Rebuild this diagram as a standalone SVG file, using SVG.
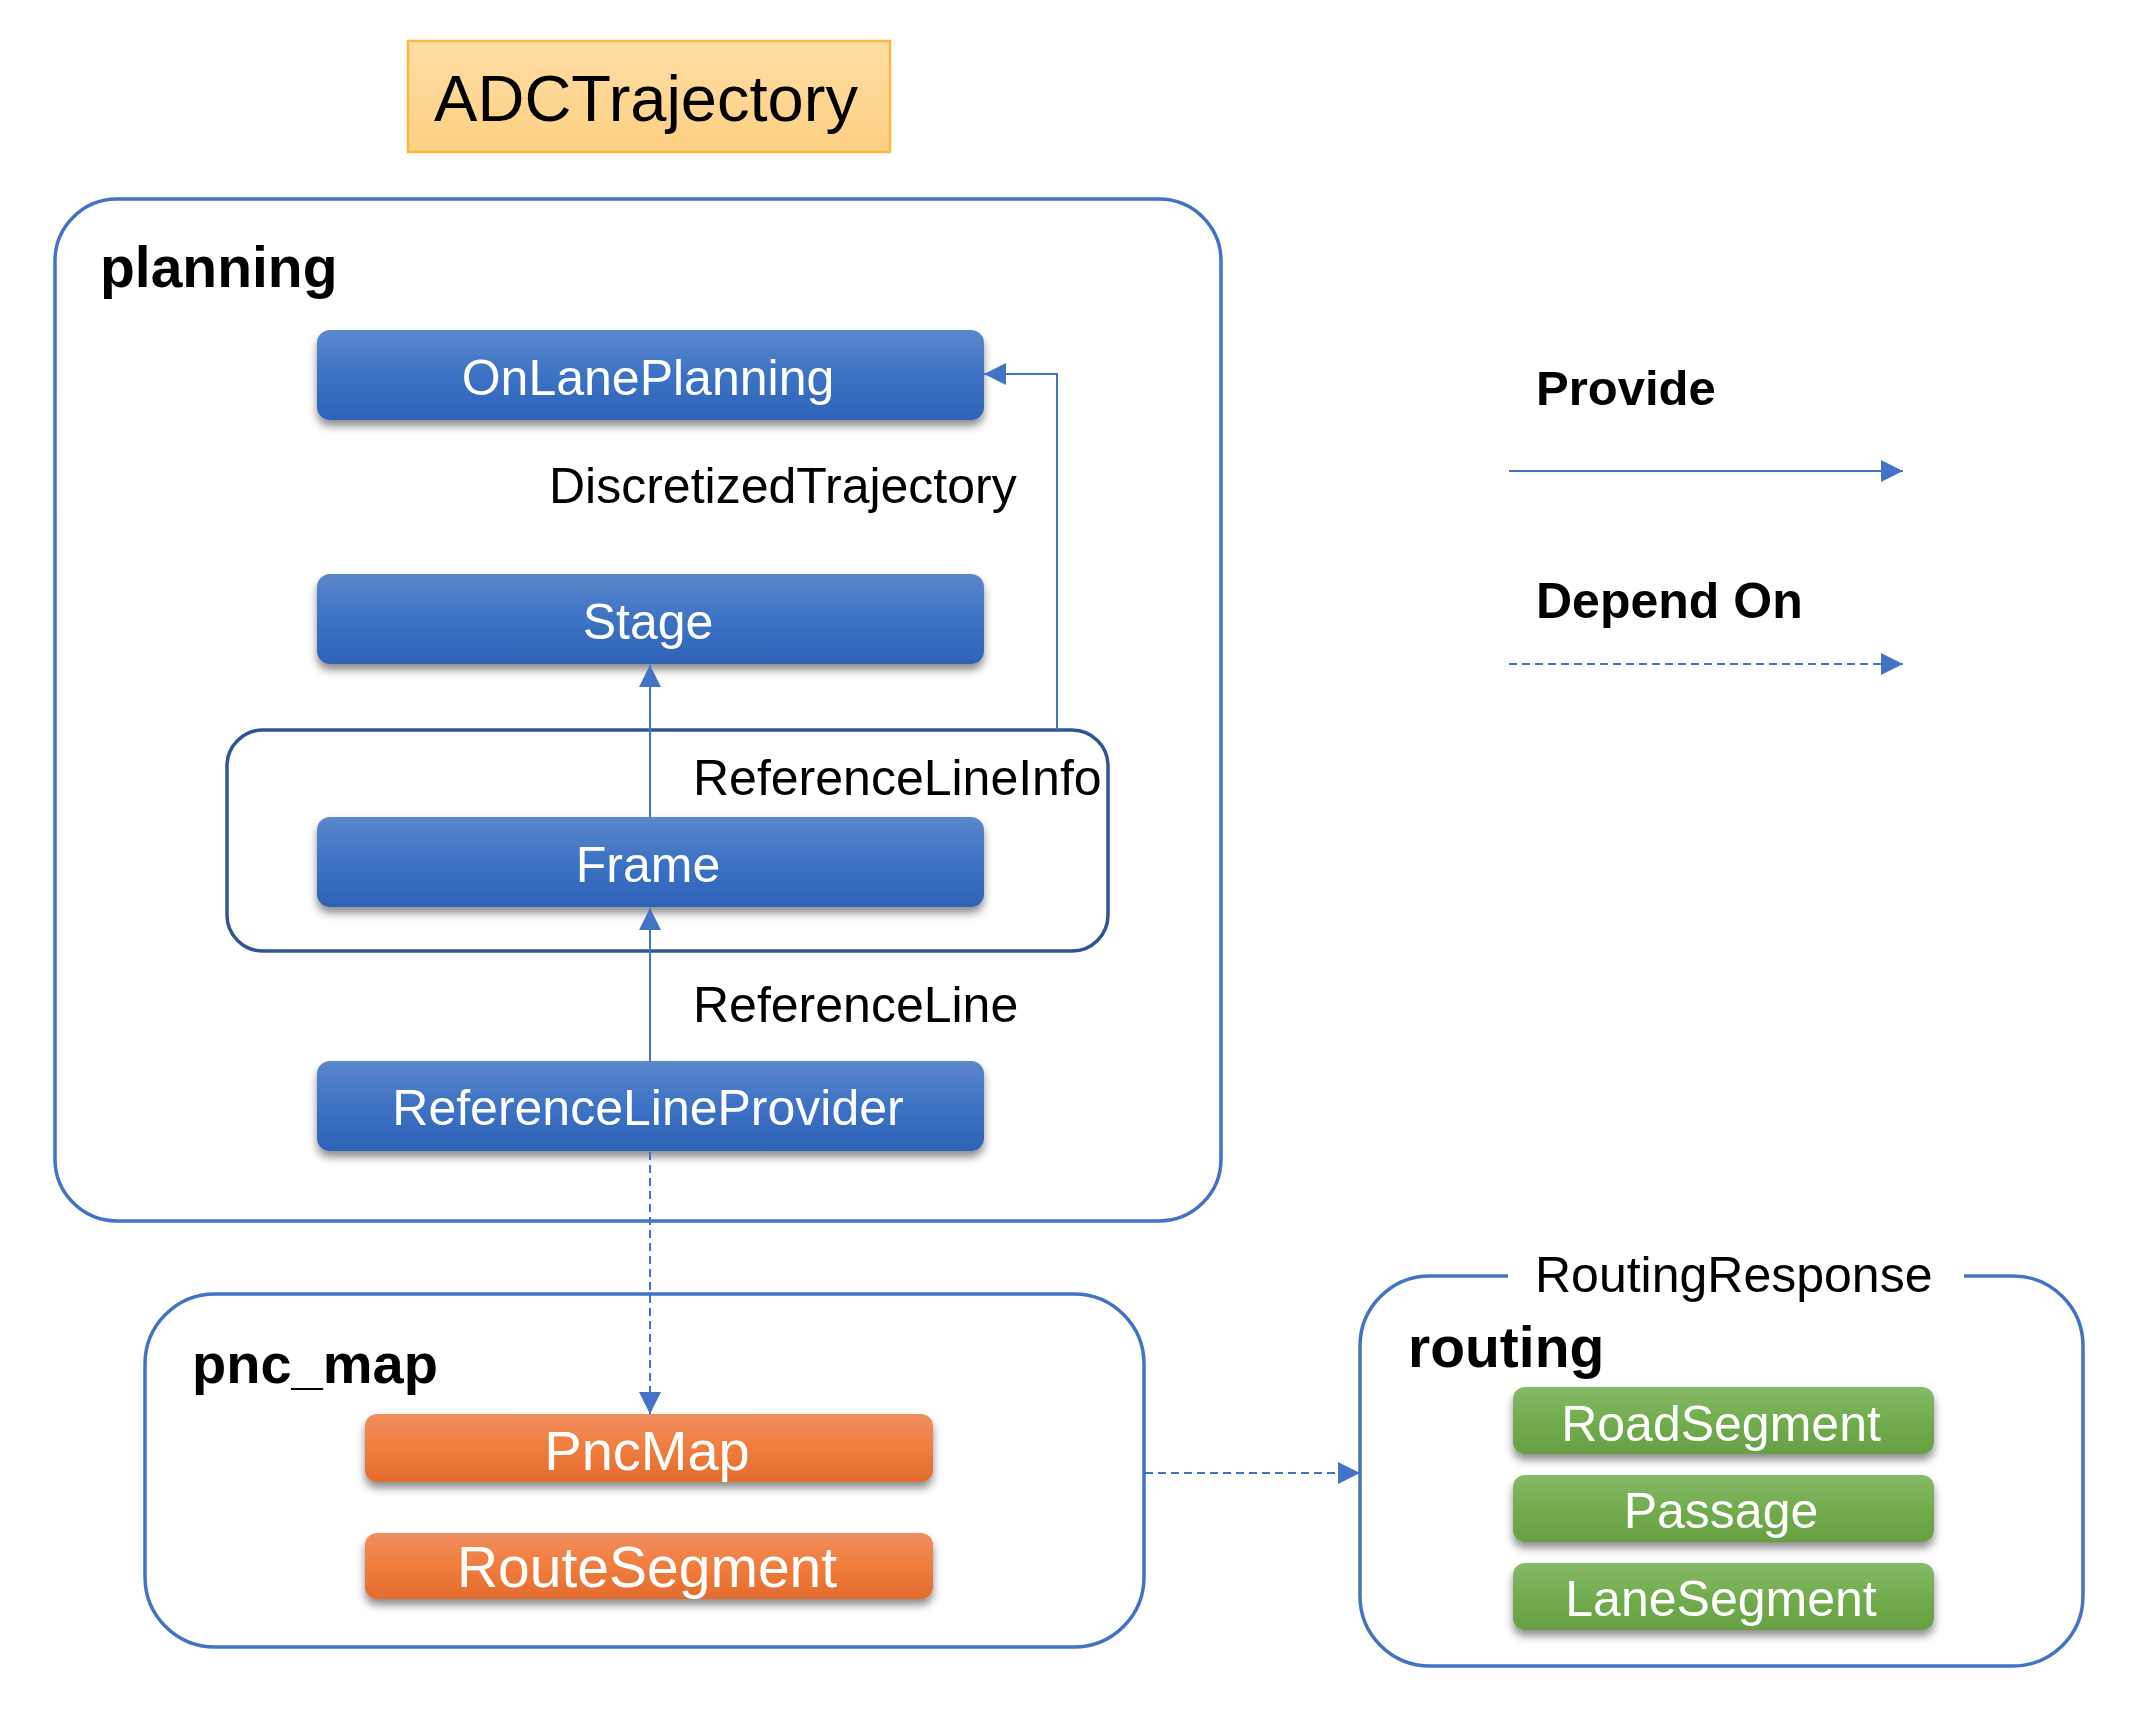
<svg xmlns="http://www.w3.org/2000/svg" width="2156" height="1710" viewBox="0 0 2156 1710">
  <defs>
    <linearGradient id="gBlue" x1="0" y1="0" x2="0" y2="1">
      <stop offset="0" stop-color="#5C87CB"/>
      <stop offset="0.5" stop-color="#3D72C4"/>
      <stop offset="1" stop-color="#2E63B7"/>
    </linearGradient>
    <linearGradient id="gOrange" x1="0" y1="0" x2="0" y2="1">
      <stop offset="0" stop-color="#EF8E60"/>
      <stop offset="0.5" stop-color="#F07D3D"/>
      <stop offset="1" stop-color="#E36B2E"/>
    </linearGradient>
    <linearGradient id="gGreen" x1="0" y1="0" x2="0" y2="1">
      <stop offset="0" stop-color="#87B96A"/>
      <stop offset="0.5" stop-color="#72AC4E"/>
      <stop offset="1" stop-color="#67A043"/>
    </linearGradient>
    <linearGradient id="gYellow" x1="0" y1="0" x2="0" y2="1">
      <stop offset="0" stop-color="#FEDDA4"/>
      <stop offset="1" stop-color="#FDD083"/>
    </linearGradient>
    <filter id="shadow" x="-10%" y="-30%" width="120%" height="170%">
      <feDropShadow dx="0" dy="6" stdDeviation="4" flood-color="#000" flood-opacity="0.45"/>
    </filter>
    <marker id="arrow" viewBox="0 0 22 22" refX="22" refY="11" markerWidth="22" markerHeight="22" markerUnits="userSpaceOnUse" orient="auto">
      <path d="M0,0 L22,11 L0,22 z" fill="#4472C4"/>
    </marker>
  </defs>
  <style>
    .container { fill: none; stroke: #4472C4; stroke-width: 3.5; }
    .inner { fill: none; stroke: #2F5597; stroke-width: 3.5; }
    .blue { fill: url(#gBlue); filter: url(#shadow); }
    .orange { fill: url(#gOrange); filter: url(#shadow); }
    .green { fill: url(#gGreen); filter: url(#shadow); }
    .box-text { font-family: "Liberation Sans", Arial, sans-serif; fill: #FFFFFF; text-anchor: middle; }
    .title { font-family: "Liberation Sans", Arial, sans-serif; font-weight: bold; fill: #000000; }
    .label { font-family: "Liberation Sans", Arial, sans-serif; fill: #000000; font-size: 50px; }
    .conn { fill: none; stroke: #4472C4; stroke-width: 2; }
    .dash { stroke-dasharray: 8 5; }
  </style>

  <rect width="2156" height="1710" fill="#FFFFFF"/>

  <g id="adctrajectory">
    <rect x="408" y="41" width="482" height="111" fill="url(#gYellow)" stroke="#F8BA3C" stroke-width="2.5"/>
    <text x="646" y="121" font-family="Liberation Sans, Arial, sans-serif" font-size="65" text-anchor="middle" fill="#000">ADCTrajectory</text>
  </g>

  <g id="planning">
    <rect class="container" x="55" y="199" width="1166" height="1022" rx="62" ry="62"/>
    <text class="title" x="100" y="287" font-size="57">planning</text>
  </g>

  <g id="referencelineinfo">
    <rect class="inner" x="227" y="730" width="881" height="221" rx="36" ry="36"/>
    <text class="label" x="693" y="795" font-size="48.5">ReferenceLineInfo</text>
  </g>

  <g id="onlaneplanning">
    <rect class="blue" x="317" y="330" width="667" height="90" rx="13" ry="13"/>
    <text class="box-text" x="648" y="395" font-size="50">OnLanePlanning</text>
  </g>

  <g id="stage">
    <rect class="blue" x="317" y="574" width="667" height="90" rx="13" ry="13"/>
    <text class="box-text" x="648" y="639" font-size="50">Stage</text>
  </g>

  <g id="frame">
    <rect class="blue" x="317" y="817" width="667" height="90" rx="13" ry="13"/>
    <text class="box-text" x="648" y="882" font-size="50">Frame</text>
  </g>

  <g id="referencelineprovider">
    <rect class="blue" x="317" y="1061" width="667" height="90" rx="13" ry="13"/>
    <text class="box-text" x="648" y="1125" font-size="50">ReferenceLineProvider</text>
  </g>

  <g id="pnc_map">
    <rect class="container" x="145" y="1294" width="999" height="353" rx="70" ry="70"/>
    <text class="title" x="192" y="1383" font-size="56">pnc_map</text>
  </g>

  <g id="pncmap">
    <rect class="orange" x="365" y="1414" width="568" height="68" rx="12" ry="12"/>
    <text class="box-text" x="647" y="1470" font-size="56">PncMap</text>
  </g>

  <g id="routesegment">
    <rect class="orange" x="365" y="1533" width="568" height="66" rx="12" ry="12"/>
    <text class="box-text" x="647" y="1587" font-size="57">RouteSegment</text>
  </g>

  <g id="routing">
    <path class="container" d="M1964,1276 H2013 A70,70 0 0 1 2083,1346 V1596 A70,70 0 0 1 2013,1666 H1430 A70,70 0 0 1 1360,1596 V1346 A70,70 0 0 1 1430,1276 H1508"/>
    <text class="label" x="1535" y="1292">RoutingResponse</text>
    <text class="title" x="1408" y="1367" font-size="57">routing</text>
  </g>

  <g id="roadsegment">
    <rect class="green" x="1513" y="1387" width="421" height="67" rx="12" ry="12"/>
    <text class="box-text" x="1721" y="1441" font-size="50">RoadSegment</text>
  </g>

  <g id="passage">
    <rect class="green" x="1513" y="1475" width="421" height="67" rx="12" ry="12"/>
    <text class="box-text" x="1721" y="1528" font-size="50">Passage</text>
  </g>

  <g id="lanesegment">
    <rect class="green" x="1513" y="1563" width="421" height="67" rx="12" ry="12"/>
    <text class="box-text" x="1721" y="1616" font-size="50">LaneSegment</text>
  </g>

  <g id="legend">
    <text class="title" x="1536" y="405" font-size="49">Provide</text>
    <text class="title" x="1536" y="618" font-size="50">Depend On</text>
  </g>

  <g id="connectors">
    <line class="conn" x1="650" y1="817" x2="650" y2="665" marker-end="url(#arrow)"/>
    <line class="conn" x1="650" y1="1061" x2="650" y2="908" marker-end="url(#arrow)"/>
    <polyline class="conn" points="1057,730 1057,374 984,374" marker-end="url(#arrow)"/>
    <line class="conn dash" x1="650" y1="1152" x2="650" y2="1414" marker-end="url(#arrow)"/>
    <line class="conn dash" x1="1145" y1="1473" x2="1360" y2="1473" marker-end="url(#arrow)"/>
    <line class="conn" x1="1509" y1="471" x2="1903" y2="471" marker-end="url(#arrow)"/>
    <line class="conn dash" x1="1509" y1="664" x2="1903" y2="664" marker-end="url(#arrow)"/>
  </g>

  <text class="label" x="549" y="503" font-size="50.5">DiscretizedTrajectory</text>
  <text class="label" x="693" y="1022" font-size="48">ReferenceLine</text>
</svg>
